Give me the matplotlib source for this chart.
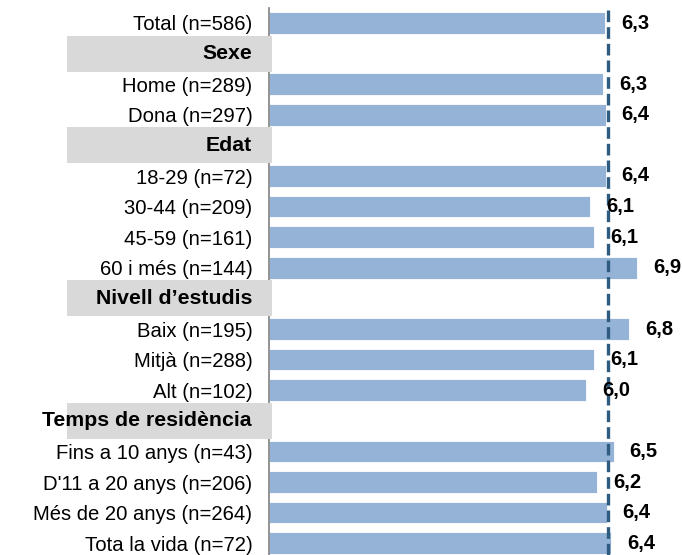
import matplotlib.pyplot as plt
from matplotlib.patches import Rectangle
import matplotlib.transforms as mtransforms

plt.rcParams['font.family'] = ['Liberation Sans', 'DejaVu Sans']

# rows from top to bottom; None marks a group header row
labels = ['Total (n=586)', 'Sexe', 'Home (n=289)', 'Dona (n=297)', 'Edat',
          '18-29 (n=72)', '30-44 (n=209)', '45-59 (n=161)', '60 i més (n=144)',
          'Nivell d\u2019estudis', 'Baix (n=195)', 'Mitjà (n=288)', 'Alt (n=102)',
          'Temps de residència', 'Fins a 10 anys (n=43)', "D'11 a 20 anys (n=206)",
          'Més de 20 anys (n=264)', 'Tota la vida (n=72)']
values = [6.34, None, 6.30, 6.35, None,
          6.35, 6.06, 6.13, 6.94,
          None, 6.79, 6.13, 5.99,
          None, 6.50, 6.19, 6.37, 6.45]
value_text = ['6,3', '', '6,3', '6,4', '',
              '6,4', '6,1', '6,1', '6,9',
              '', '6,8', '6,1', '6,0',
              '', '6,5', '6,2', '6,4', '6,4']
ref_value = 6.39

W, H = 682, 555
fig = plt.figure(figsize=(W / 100, H / 100), dpi=100)
ax_left = 269 / W
ax = fig.add_axes([ax_left, 0, 1 - ax_left, 1 - 7.7 / H])

n = len(labels)
rows = list(range(n))
bar_rows = [i for i in rows if values[i] is not None]
ax.barh(bar_rows, [values[i] for i in bar_rows], height=0.7,
        color='#95B3D7', edgecolor='white', linewidth=0.6, zorder=2)

for i in bar_rows:
    ax.annotate(value_text[i], (values[i], i), xytext=(11.5, 0),
                textcoords='offset points', ha='left', va='center',
                fontsize=14.5, fontweight='bold', color='black', zorder=5)

ax.axvline(ref_value, color='#2E5C80', linewidth=2.4,
           linestyle=(0, (3.5, 1.5)), zorder=4)

ax.set_xlim(0, (W - 269) / 53)
ax.set_ylim(-0.5 + (H - 7.7) / 30.6, -0.5)

# normal category labels as ticks, headers drawn on top of gray boxes
ax.set_yticks(bar_rows)
ax.set_yticklabels([labels[i] for i in bar_rows], fontsize=14.6)
ax.tick_params(axis='y', length=0, pad=12)
ax.set_xticks([])

for s in ['top', 'right', 'bottom']:
    ax.spines[s].set_visible(False)
ax.spines['left'].set_color('#808080')
ax.spines['left'].set_linewidth(1.2)

trans = mtransforms.blended_transform_factory(fig.transFigure, ax.transData)
for i in rows:
    if values[i] is None:
        ax.add_patch(Rectangle((67 / W, i - 0.59), (272 - 67) / W, 1.18,
                               transform=trans, facecolor='#D9D9D9',
                               edgecolor='none', clip_on=False, zorder=3))
        ax.text(252 / W, i, labels[i], transform=trans, ha='right',
                va='center', fontsize=15.3, fontweight='bold',
                clip_on=False, zorder=7)

fig.savefig('out.png', dpi=100)
plt.close()
